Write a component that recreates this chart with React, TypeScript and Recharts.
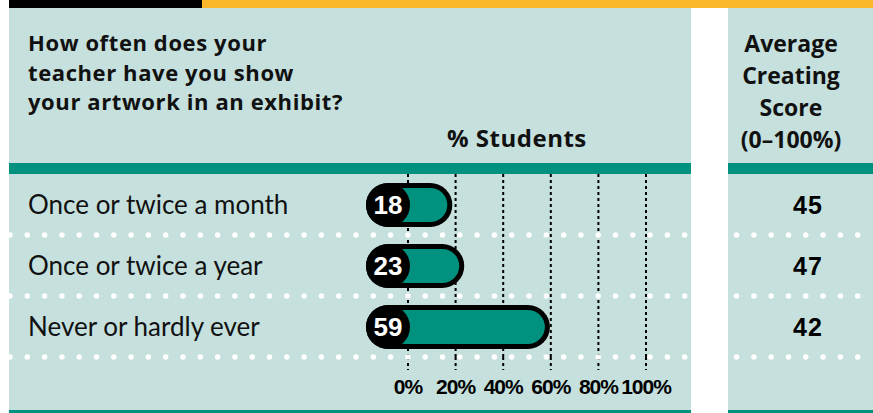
import React from "react";
import { BarChart, Bar, XAxis, YAxis, CartesianGrid } from "recharts";

const categories = ["Once or twice a month", "Once or twice a year", "Never or hardly ever"];
const studentPct = [18, 23, 59];
const avgScores = [45, 47, 42];
const pctTicks = [0, 20, 40, 60, 80, 100];
const headerLeft = ["How often does your", "teacher have you show", "your artwork in an exhibit?"];
const headerRight = ["Average", "Creating", "Score", "(0–100%)"];
const axisTitle = "% Students";

const data = categories.map((c, i) => ({ label: c, pct: studentPct[i], score: avgScores[i] }));

const W = 873;
const H = 413;
const PLOT_TOP = 174;
const AXIS_H = 56;
const PLOT_BOTTOM = H - AXIS_H;
const BAND = (PLOT_BOTTOM - PLOT_TOP) / categories.length;

const TEAL = "#00917F";
const LIGHT = "#C5E0DD";
const YELLOW = "#FDB829";
const TXT = "#111";
const HUMANIST = "Lato, 'Open Sans', sans-serif";
const HEADFONT = "'Open Sans', 'Noto Sans', sans-serif";
const NUMFONT = "'Liberation Sans', Arial, sans-serif";

function PctTick(props: any) {
  const { x, y, payload } = props;
  return (
    <g>
      <line x1={x} x2={x} y1={y} y2={y + 13} stroke="#000" strokeWidth={2} strokeDasharray="3 3" />
      <text x={x} y={y + 37} textAnchor="middle" fontFamily={NUMFONT} fontWeight={700} fontSize={21} letterSpacing={-1} fill="#000">
        {payload.value}%
      </text>
    </g>
  );
}

function RowTick(props: any) {
  const { y, payload, index } = props;
  const sepY = y + BAND / 2;
  return (
    <g>
      <text x={28} y={y} dy="0.36em" fontFamily={HUMANIST} fontSize={26} fill={TXT}>
        {payload.value}
      </text>
      <line x1={10} x2={W} y1={sepY} y2={sepY} stroke="#fff" strokeWidth={5.5} strokeLinecap="round" strokeDasharray="0 17.3" />
      <text x={808} y={y} dy="0.36em" textAnchor="middle" fontFamily={NUMFONT} fontWeight={700} fontSize={25} letterSpacing={1} fill="#000">
        {avgScores[index]}
      </text>
    </g>
  );
}

function PillBar(props: any) {
  const { x, y, width, height, payload } = props;
  const r = height / 2;
  const cy = y + r;
  const cx = x - 20;
  const left = cx - r;
  const right = x + width + 1.5;
  const ih = height - 10;
  return (
    <g>
      <rect x={left} y={y} width={right - left} height={height} rx={r} fill="#000" />
      <rect x={cx} y={y + 5} width={Math.max(0, right - 5 - cx)} height={ih} rx={ih / 2} fill={TEAL} />
      <circle cx={cx} cy={cy} r={r} fill="#000" />
      <text x={cx} y={cy} dy="0.36em" textAnchor="middle" fill="#fff" fontFamily={NUMFONT} fontWeight={700} fontSize={26}>
        {payload.pct}
      </text>
    </g>
  );
}

export default function App() {
  return (
    <div style={{ position: "absolute", left: 0, top: 0, width: W, height: H, background: "#fff" }}>
      <svg width={W} height={H} style={{ position: "absolute", left: 0, top: 0 }}>
        <rect x={9} y={0} width={193} height={8} fill="#000" />
        <rect x={202} y={0} width={W - 202} height={8} fill={YELLOW} />
        <rect x={9} y={8} width={682} height={H - 8} fill={LIGHT} />
        <rect x={728} y={8} width={W - 728} height={H - 8} fill={LIGHT} />
        <rect x={9} y={163} width={682} height={11} fill={TEAL} />
        <rect x={728} y={163} width={W - 728} height={11} fill={TEAL} />
        <rect x={9} y={410} width={682} height={3} fill={TEAL} />
        <rect x={728} y={410} width={W - 728} height={3} fill={TEAL} />
        {headerLeft.map((t, i) => (
          <text key={t} x={28} y={51 + i * 29.5} fontFamily={HEADFONT} fontWeight={700} fontSize={22} letterSpacing={0.6} fill={TXT}>
            {t}
          </text>
        ))}
        {headerRight.map((t, i) => (
          <text key={t} x={791} y={52 + i * 32} textAnchor="middle" fontFamily={HEADFONT} fontWeight={700} fontSize={23} fill={TXT}>
            {t}
          </text>
        ))}
        <text x={447} y={147} fontFamily={HEADFONT} fontWeight={700} fontSize={24} letterSpacing={0.5} fill={TXT}>
          {axisTitle}
        </text>
      </svg>
      <div style={{ position: "absolute", left: 0, top: 0 }}>
        <BarChart
          width={W}
          height={H}
          layout="vertical"
          data={data}
          margin={{ top: PLOT_TOP, right: 227, bottom: 0, left: 0 }}
        >
          <CartesianGrid horizontal={false} vertical stroke="#000" strokeWidth={2} strokeDasharray="3 3" />
          <XAxis
            type="number"
            domain={[0, 100]}
            ticks={pctTicks}
            interval={0}
            height={AXIS_H}
            axisLine={false}
            tickLine={false}
            tickSize={0}
            tickMargin={0}
            tick={(p: any) => <PctTick {...p} />}
          />
          <YAxis
            type="category"
            dataKey="label"
            width={408}
            interval={0}
            axisLine={false}
            tickLine={false}
            tickSize={0}
            tickMargin={0}
            tick={(p: any) => <RowTick {...p} />}
          />
          <Bar dataKey="pct" barSize={44} isAnimationActive={false} shape={(p: any) => <PillBar {...p} />} />
        </BarChart>
      </div>
    </div>
  );
}
